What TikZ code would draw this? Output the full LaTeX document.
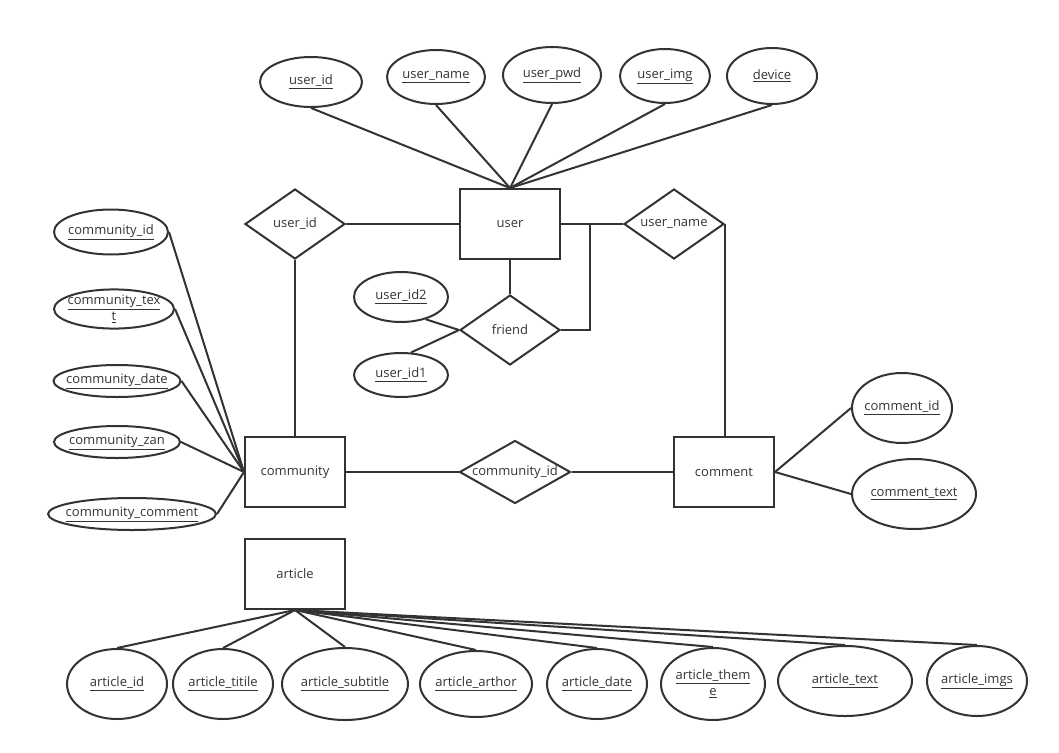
\documentclass[tikz,border=0pt]{standalone}
\usepackage{fontspec}
\setmainfont{Open Sans}
\usetikzlibrary{shapes.geometric}
\definecolor{ln}{HTML}{333333}
\newcommand{\ul}[1]{\makebox[0pt][c]{\underline{#1}}}
\begin{document}
\begin{tikzpicture}[x=1pt,y=-1pt,
  every node/.style={text=ln,font=\fontsize{13}{16}\selectfont,inner sep=0pt},
  ent/.style={draw=ln,line width=2pt,rectangle,minimum width=100pt,minimum height=70pt},
  rel/.style={draw=ln,line width=2pt,diamond,aspect=1.43,minimum width=100pt,minimum height=70pt},
  att/.style={draw=ln,line width=2pt,ellipse,align=center},
  con/.style={draw=ln,line width=2pt}]
\useasboundingbox (0,0) rectangle (1059,752);
% entities
\node[ent] (user) at (510,224) {user};
\node[ent] (community) at (295,472) {community};
\node[ent] (comment) at (724,472) {comment};
\node[ent] (article) at (295,574) {article};
% relations
\node[rel] (ruid) at (295,224) {user\_id};
\node[rel] (runame) at (674,224) {user\_name};
\node[rel] (friend) at (510,330) {friend};
\node[rel,aspect=1.76,minimum width=111pt,minimum height=63pt] (rcid) at (515,472) {community\_id};
% user attributes
\node[att,minimum width=102pt,minimum height=50pt] (uid) at (311,82) {\ul{user\_id}};
\node[att,minimum width=98pt,minimum height=54pt] (uname) at (436,77) {\ul{user\_name}};
\node[att,minimum width=98pt,minimum height=56pt] (upwd) at (552,75) {\ul{user\_pwd}};
\node[att,minimum width=90pt,minimum height=54pt] (uimg) at (665,76) {\ul{user\_img}};
\node[att,minimum width=90pt,minimum height=56pt] (dev) at (772,76) {\ul{device}};
% friend attributes
\node[att,minimum width=94pt,minimum height=50pt] (uid2) at (401,297) {\ul{user\_id2}};
\node[att,minimum width=94pt,minimum height=44pt] (uid1) at (401,375) {\ul{user\_id1}};
% community attributes
\node[att,minimum width=114pt,minimum height=45pt] (cid) at (111,232) {\ul{community\_id}};
\node[att,minimum width=120pt,minimum height=36pt] (ctext) at (114,309) {\ul{community\_tex}\\\ul{t}};
\node[att,minimum width=127pt,minimum height=32pt] (cdate) at (117,381) {\ul{community\_date}};
\node[att,minimum width=126pt,minimum height=32pt] (czan) at (117,442) {\ul{community\_zan}};
\node[att,minimum width=168pt,minimum height=32pt] (ccom) at (132,514) {\ul{community\_comment}};
% comment attributes
\node[att,minimum width=100pt,minimum height=70pt] (cmid) at (902,408) {\ul{comment\_id}};
\node[att,minimum width=124pt,minimum height=70pt] (cmtext) at (914,494) {\ul{comment\_text}};
% article attributes
\node[att,minimum width=100pt,minimum height=70pt] (aid) at (117,684) {\ul{article\_id}};
\node[att,minimum width=100pt,minimum height=70pt] (atit) at (223,684) {\ul{article\_titile}};
\node[att,minimum width=126pt,minimum height=72pt] (asub) at (345,684) {\ul{article\_subtitle}};
\node[att,minimum width=112pt,minimum height=66pt] (aarth) at (476,684) {\ul{article\_arthor}};
\node[att,minimum width=100pt,minimum height=70pt] (adate) at (597,684) {\ul{article\_date}};
\node[att,minimum width=104pt,minimum height=72pt] (atheme) at (713,684) {\ul{article\_them}\\\ul{e}};
\node[att,minimum width=134pt,minimum height=70pt] (atext) at (845,681) {\ul{article\_text}};
\node[att,minimum width=100pt,minimum height=70pt] (aimgs) at (977,681) {\ul{article\_imgs}};
% connectors
\coordinate (fj) at (590,224);
\foreach \a in {uid,uname,upwd,uimg,dev} \draw[con] (user.north) -- (\a.south);
\draw[con] (ruid.east) -- (user.west);
\draw[con] (user.east) -- (runame.west);
\draw[con] (user.south) -- (friend.north);
\draw[con] (friend.east) -| (fj);
\draw[con] (friend.west) -- (uid2.-42);
\draw[con] (friend.west) -- (uid1.66);
\draw[con] (ruid.south) -- (community.north);
\draw[con] (runame.east) -- (comment.north -| runame.east);
\draw[con] (community.east) -- (rcid.west);
\draw[con] (rcid.east) -- (comment.west);
\draw[con] (comment.east) -- (cmid.west);
\draw[con] (comment.east) -- (cmtext.west);
\foreach \a in {cid,ctext,cdate,czan,ccom} \draw[con] (community.west) -- (\a.east);
\foreach \a in {aid,atit,asub,aarth,adate,atheme,atext,aimgs} \draw[con] (article.south) -- (\a.north);
\end{tikzpicture}
\end{document}
